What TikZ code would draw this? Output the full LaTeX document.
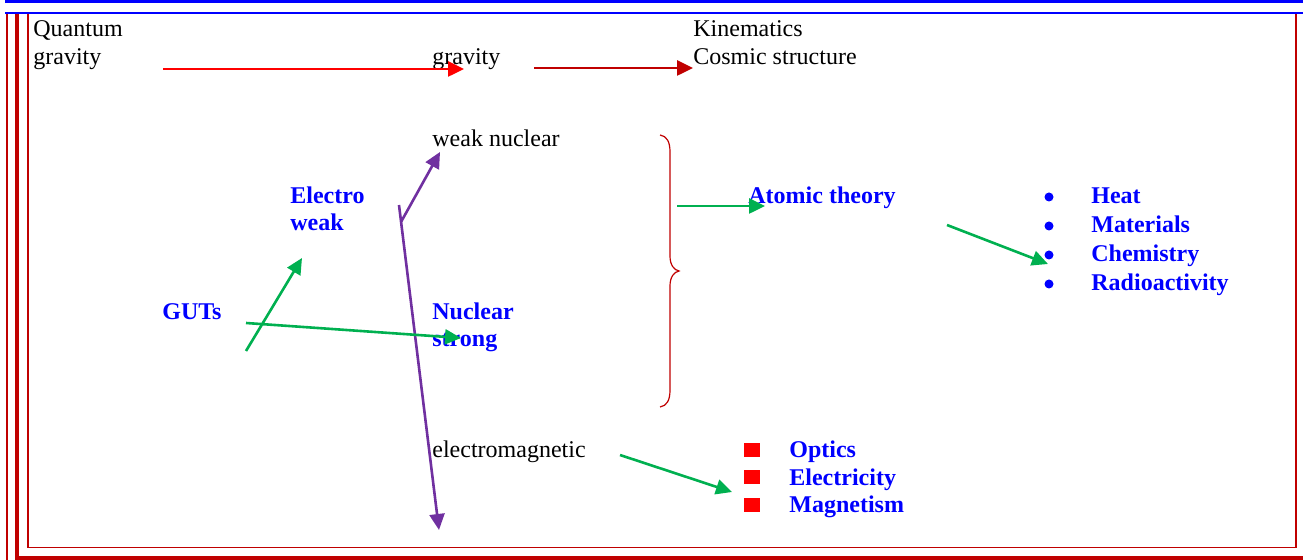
\documentclass[tikz,border=0pt]{standalone}
\usepackage{fontspec}
\setmainfont{Liberation Serif}
\usetikzlibrary{arrows.meta}
\definecolor{dred}{HTML}{C00000}
\definecolor{pred}{HTML}{FF0000}
\definecolor{purp}{HTML}{7030A0}
\definecolor{grn}{HTML}{00B050}
\definecolor{blu}{HTML}{0000FF}
\tikzset{
  txt/.style={anchor=base west, inner sep=0pt, text=black},
  btxt/.style={anchor=base west, inner sep=0pt, text=blu, font=\fontsize{12pt}{13.8pt}\selectfont\bfseries},
  arr/.style={line width=1.3pt, -{Triangle[length=8pt,width=7.5pt]}},
  garr/.style={arr, draw=grn},
  parr/.style={arr, draw=purp},
  bul/.style={circle, fill=blu, minimum size=4.5pt, inner sep=0pt},
  sq/.style={rectangle, fill=pred, minimum width=8pt, minimum height=7pt, inner sep=0pt},
  bracestyle/.style={draw=dred, line width=0.6pt}
}
\begin{document}
\begin{tikzpicture}[x=0.5pt,y=-0.5pt,font=\fontsize{12pt}{13.8pt}\selectfont]
\useasboundingbox (0,0) rectangle (1303,560);
% frame
\fill[blu] (5,0) rectangle (1303,3.3);
\fill[blu] (5,12.2) rectangle (1303,13.8);
\fill[dred] (6,13.8) rectangle (8,560);
\fill[dred] (15,13.8) rectangle (19,560);
\fill[dred] (15,556) rectangle (1303,560);
\draw[dred, line width=0.8pt] (28,13.8) -- (28,547.5) -- (1296,547.5) -- (1296,13.8);
% texts
\node[txt] (qg1) at (33,37) {Quantum};
\node[txt] (qg2) at (33,65) {gravity};
\node[txt] (grav) at (432,65) {gravity};
\node[txt] (kin) at (693,37) {Kinematics};
\node[txt] (cos) at (693,65) {Cosmic structure};
\node[txt] (weak) at (432,147) {weak nuclear};
\node[btxt] (ew1) at (290,204) {Electro};
\node[btxt] (ew2) at (290,231) {weak};
\node[btxt] (guts) at (162,320) {GUTs};
\node[btxt] (ns1) at (432,320) {Nuclear};
\node[btxt] (ns2) at (432,347) {strong};
\node[txt] (em) at (432,458) {electromagnetic};
\node[btxt] (atom) at (748,204) {Atomic theory};
\node[btxt] (heat) at (1091,204) {Heat};
\node[btxt] (mat) at (1091,233) {Materials};
\node[btxt] (chem) at (1091,262) {Chemistry};
\node[btxt] (rad) at (1091,291) {Radioactivity};
\node[bul] (b1) at (1049,197) {};
\node[bul] (b2) at (1049,226) {};
\node[bul] (b3) at (1049,255) {};
\node[bul] (b4) at (1049,284) {};
\node[btxt] (opt) at (789,458) {Optics};
\node[btxt] (ele) at (789,486) {Electricity};
\node[btxt] (mag) at (789,513) {Magnetism};
\node[sq] (s1) at (752,450) {};
\node[sq] (s2) at (752,477.5) {};
\node[sq] (s3) at (752,505) {};
% arrow endpoints
\coordinate (r1a) at (163,69);
\coordinate (r1b) at (464,69);
\coordinate (r2a) at (534,68);
\coordinate (r2b) at (693,68);
\coordinate (pa) at (399,205);
\coordinate (pj) at (401,222);
\coordinate (pb) at (439,530);
\coordinate (pw) at (440,152);
\coordinate (g1a) at (246,351);
\coordinate (g1b) at (302,258);
\coordinate (g2a) at (246,323);
\coordinate (g2b) at (461,338);
\coordinate (g3a) at (677,206);
\coordinate (g3b) at (765,206);
\coordinate (g4a) at (947,225);
\coordinate (g4b) at (1048,264);
\coordinate (g5a) at (620,455);
\coordinate (g5b) at (732,492);
% arrows
\draw[arr, draw=pred] (r1a) -- (r1b);
\draw[arr, draw=dred] (r2a) -- (r2b);
\draw[parr] (pa) -- (pb);
\draw[parr] (pj) -- (pw);
\draw[garr] (g1a) -- (g1b);
\draw[garr] (g2a) -- (g2b);
\draw[garr] (g3a) -- (g3b);
\draw[garr] (g4a) -- (g4b);
\draw[garr] (g5a) -- (g5b);
% brace
\draw[bracestyle] (660,135) .. controls (667,136) and (670,142) .. (670,152) -- (670,256) .. controls (670,265) and (674,270) .. (679,271) .. controls (674,272) and (670,277) .. (670,286) -- (670,390) .. controls (670,400) and (667,406) .. (660,407);
\end{tikzpicture}
\end{document}
